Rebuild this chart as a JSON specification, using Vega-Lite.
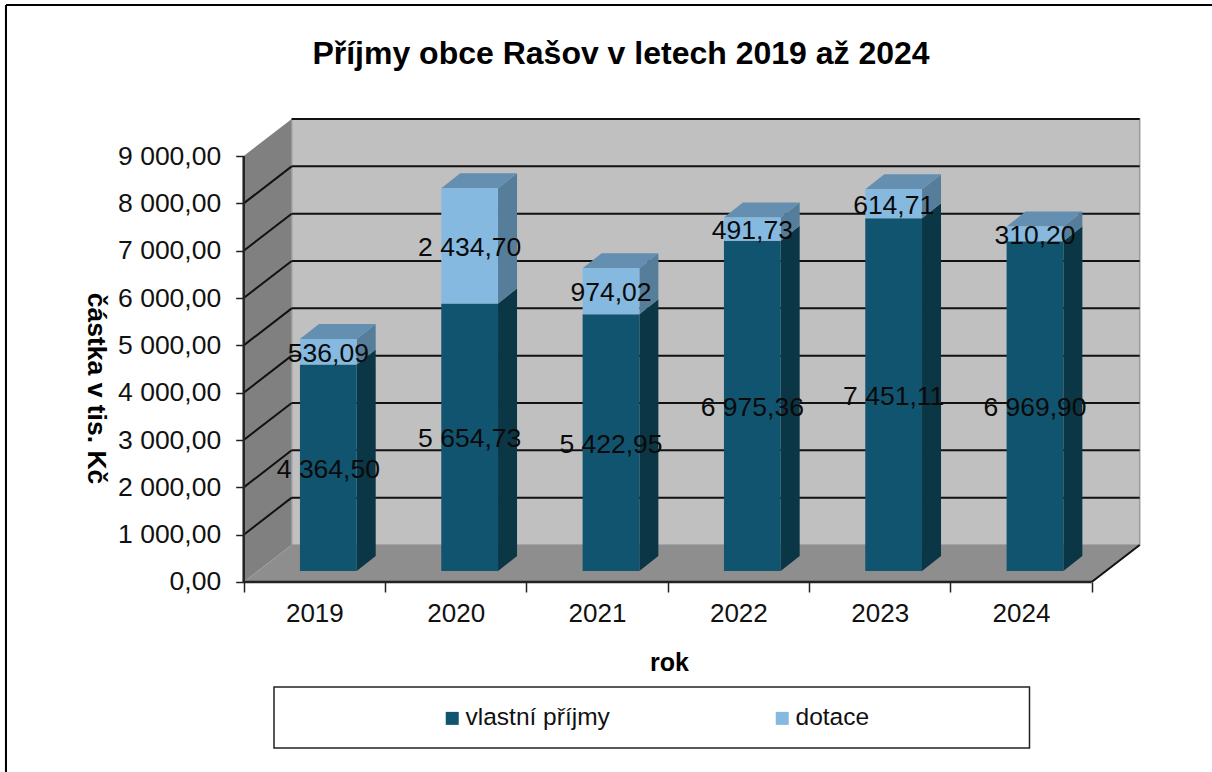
{
"$schema":"https://vega.github.io/schema/vega-lite/v6.json",
"width":1212,"height":772,"padding":0,"autosize":{"type":"none"},"background":"white",
"title":{"text":"Příjmy obce Rašov v letech 2019 až 2024","font":"Liberation Sans","fontSize":32,"fontWeight":"bold","color":"black","anchor":"middle","frame":"group","dx":15,"dy":71,"offset":0},
"config":{"view":{"stroke":null},"font":"Liberation Sans","text":{"font":"Liberation Sans"}},
"datasets":{
"rows":[
{"year":2019,"series":"vlastní příjmy","value":4364.50},{"year":2019,"series":"dotace","value":536.09},
{"year":2020,"series":"vlastní příjmy","value":5654.73},{"year":2020,"series":"dotace","value":2434.70},
{"year":2021,"series":"vlastní příjmy","value":5422.95},{"year":2021,"series":"dotace","value":974.02},
{"year":2022,"series":"vlastní příjmy","value":6975.36},{"year":2022,"series":"dotace","value":491.73},
{"year":2023,"series":"vlastní příjmy","value":7451.11},{"year":2023,"series":"dotace","value":614.71},
{"year":2024,"series":"vlastní příjmy","value":6969.90},{"year":2024,"series":"dotace","value":310.20}],
"depth":[{"d":0},{"d":1}],
"grid":[{"level":1000},{"level":2000},{"level":3000},{"level":4000},{"level":5000},{"level":6000},{"level":7000},{"level":8000},{"level":9000}]
},
"encoding":{
"x":{"field":"x","type":"quantitative","scale":{"domain":[-1.7243,6.8513],"nice":false,"zero":false},
 "axis":{"orient":"bottom","offset":-190,"domain":false,"grid":false,"values":[0,0.5,1,1.5,2,2.5,3,3.5,4,4.5,5,5.5,6],"labelExpr":"datum.value%1!=0?''+(2019+floor(datum.value)):''","tickOpacity":{"condition":{"test":"datum.value%1!=0","value":0},"value":1},"tickColor":"#222222","tickWidth":1.5,"tickSize":10,"labelFont":"Liberation Sans","labelFontSize":26,"labelColor":"#111111","labelPadding":8,"labelBound":false,"labelFlush":false,"labelOverlap":false,"title":"rok","titleFont":"Liberation Sans","titleFontSize":25,"titleFontWeight":"bold","titleColor":"black","titleX":669,"titleY":68}},
"y":{"field":"y","type":"quantitative","scale":{"domain":[-4014.4,12296.6],"nice":false,"zero":false},
 "axis":{"orient":"left","offset":-243.7,"domain":false,"grid":false,"values":[0,1000,2000,3000,4000,5000,6000,7000,8000,9000],"labelExpr":"replace(replace(format(datum.value,',.2f'),',',' '),'.',',')","tickColor":"#222222","tickWidth":1.5,"tickSize":8,"labelFont":"Liberation Sans","labelFontSize":26.5,"labelColor":"#111111","labelPadding":15,"labelBound":false,"labelFlush":false,"labelOverlap":false,"title":"částka v tis. Kč","titleFont":"Liberation Sans","titleFontSize":26.5,"titleFontWeight":"bold","titleColor":"black","titleAngle":90,"titleX":-162,"titleY":388}}
},
"layer":[
{"data":{"name":"depth"},"transform":[{"calculate":"-1.682","as":"x"},{"calculate":"6.8513","as":"x2"},{"calculate":"12191","as":"y"}],"mark":{"type":"rule","color":"black","strokeWidth":2},"encoding":{"x2":{"field":"x2"}}},
{"data":{"name":"depth"},"transform":[{"calculate":"-1.682","as":"x"},{"calculate":"12191","as":"y"},{"calculate":"-4014.4","as":"y2"}],"mark":{"type":"rule","color":"black","strokeWidth":2},"encoding":{"y2":{"field":"y2"}}},
{"data":{"name":"depth"},"transform":[{"filter":"datum.d==0"},{"calculate":"0.2144","as":"x"},{"calculate":"5.56","as":"x2"},{"calculate":"-2218","as":"y"},{"calculate":"-3507","as":"y2"}],"mark":{"type":"rect","fill":"white","stroke":"#222222","strokeWidth":1.5},"encoding":{"x2":{"field":"x2"},"y2":{"field":"y2"}}},
{"data":{"name":"depth"},"transform":[{"calculate":"0.3396*datum.d","as":"x"},{"calculate":"782*datum.d","as":"y"},{"calculate":"9000+782*datum.d","as":"y2"}],"mark":{"type":"area","color":"#808080","orient":"vertical"},"encoding":{"y2":{"field":"y2"}}},
{"data":{"name":"depth"},"transform":[{"filter":"datum.d==1"},{"calculate":"0.3396","as":"x"},{"calculate":"6.3396","as":"x2"},{"calculate":"782","as":"y"},{"calculate":"9782","as":"y2"}],"mark":{"type":"rect","color":"#c0c0c0","stroke":"#9a9a9a","strokeWidth":1.5},"encoding":{"x2":{"field":"x2"},"y2":{"field":"y2"}}},
{"data":{"name":"depth"},"transform":[{"calculate":"0.3396*datum.d","as":"x"},{"calculate":"6+0.3396*datum.d","as":"x2"},{"calculate":"782*datum.d","as":"y"}],"mark":{"type":"area","color":"#8e8e8e","orient":"horizontal"},"encoding":{"x2":{"field":"x2"}}},
{"data":{"name":"grid"},"transform":[{"calculate":"0.3396","as":"x"},{"calculate":"6.3396","as":"x2"},{"calculate":"datum.level+782","as":"y"}],"mark":{"type":"rule","color":"#111111","strokeWidth":2},"encoding":{"x2":{"field":"x2"}}},
{"data":{"name":"grid"},"transform":[{"filter":"datum.level<9000"},{"calculate":"0","as":"x"},{"calculate":"0.3396","as":"x2"},{"calculate":"datum.level","as":"y"},{"calculate":"datum.level+782","as":"y2"}],"mark":{"type":"rule","color":"#111111","strokeWidth":2},"encoding":{"x2":{"field":"x2"},"y2":{"field":"y2"}}},
{"data":{"name":"depth"},"transform":[{"filter":"datum.d==0"},{"calculate":"0","as":"x"},{"calculate":"0","as":"y"},{"calculate":"9000","as":"y2"}],"mark":{"type":"rule","color":"#222222","strokeWidth":2.5},"encoding":{"y2":{"field":"y2"}}},
{"data":{"name":"depth"},"transform":[{"filter":"datum.d==0"},{"calculate":"0","as":"x"},{"calculate":"6","as":"x2"},{"calculate":"0","as":"y"}],"mark":{"type":"rule","color":"#222222","strokeWidth":2.5},"encoding":{"x2":{"field":"x2"}}},
{"data":{"name":"depth"},"transform":[{"filter":"datum.d==0"},{"calculate":"6","as":"x"},{"calculate":"6.3396","as":"x2"},{"calculate":"0","as":"y"},{"calculate":"782","as":"y2"}],"mark":{"type":"rule","color":"#111111","strokeWidth":2},"encoding":{"x2":{"field":"x2"},"y2":{"field":"y2"}}},
{"data":{"name":"rows"},"transform":[
 {"calculate":"datum.series=='dotace'?1:0","as":"order"},
 {"stack":"value","groupby":["year"],"sort":[{"field":"order","order":"ascending"}],"as":["s0","s1"]},
 {"calculate":"0","as":"near"},{"calculate":"1","as":"far"},{"fold":["near","far"],"as":["face","d"]},
 {"calculate":"datum.year-2019+0.7996+0.1344*datum.d","as":"x"},
 {"calculate":"datum.s0+232+317*datum.d","as":"y"},{"calculate":"datum.s1+232+317*datum.d","as":"y2"}],
 "mark":{"type":"area","orient":"vertical"},
 "encoding":{"y2":{"field":"y2"},"detail":[{"field":"year"},{"field":"series"}],"color":{"condition":{"test":"datum.series=='dotace'","value":"#567d99"},"value":"#0b3646"}}},
{"data":{"name":"rows"},"transform":[
 {"calculate":"datum.series=='dotace'?1:0","as":"order"},
 {"stack":"value","groupby":["year"],"sort":[{"field":"order","order":"ascending"}],"as":["s0","s1"]},
 {"filter":"datum.series=='dotace'"},
 {"calculate":"0","as":"near"},{"calculate":"1","as":"far"},{"fold":["near","far"],"as":["face","d"]},
 {"calculate":"datum.year-2019+0.398+0.1344*datum.d","as":"x"},
 {"calculate":"datum.year-2019+0.7996+0.1344*datum.d","as":"x2"},
 {"calculate":"datum.s1+232+317*datum.d","as":"y"}],
 "mark":{"type":"area","orient":"horizontal","color":"#658fb1"},
 "encoding":{"x2":{"field":"x2"},"detail":{"field":"year"}}},
{"data":{"name":"rows"},"transform":[
 {"calculate":"datum.series=='dotace'?1:0","as":"order"},
 {"stack":"value","groupby":["year"],"sort":[{"field":"order","order":"ascending"}],"as":["s0","s1"]},
 {"calculate":"datum.year-2019+0.398","as":"x"},{"calculate":"datum.year-2019+0.7996","as":"x2"},
 {"calculate":"datum.s0+232","as":"y"},{"calculate":"datum.s1+232","as":"y2"}],
 "mark":{"type":"rect"},
 "encoding":{"x2":{"field":"x2"},"y2":{"field":"y2"},
 "color":{"field":"series","type":"nominal","scale":{"domain":["vlastní příjmy","dotace"],"range":["#11546f","#85b9e0"]},
 "legend":{"orient":"none","legendX":440,"legendY":706,"direction":"horizontal","columns":2,"title":null,"symbolType":"square","symbolSize":169,"symbolStrokeWidth":0,"symbolOpacity":1,"labelFont":"Liberation Sans","labelFontSize":24.5,"labelColor":"#111111","labelOffset":1,"columnPadding":160,"padding":0}}}},
{"data":{"name":"rows"},"transform":[
 {"calculate":"datum.series=='dotace'?1:0","as":"order"},
 {"stack":"value","groupby":["year"],"sort":[{"field":"order","order":"ascending"}],"as":["s0","s1"]},
 {"calculate":"datum.year-2019+0.599","as":"x"},{"calculate":"(datum.s0+datum.s1)/2+232","as":"y"},
 {"calculate":"replace(replace(format(datum.value,',.2f'),',',' '),'.',',')","as":"label"}],
 "mark":{"type":"text","font":"Liberation Sans","fontSize":26.5,"color":"#0a0a0a","align":"center","baseline":"middle","dy":2},
 "encoding":{"text":{"field":"label"}}}
]
}
